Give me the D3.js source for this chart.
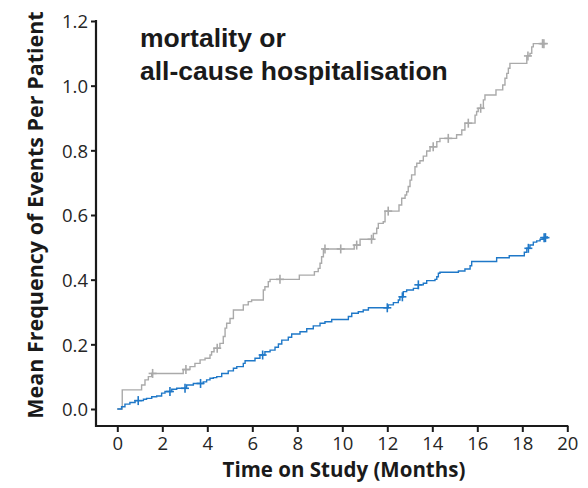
<!DOCTYPE html>
<html>
<head>
<meta charset="utf-8">
<script src="https://cdn.jsdelivr.net/npm/d3@7"></script>
<style>
  body { margin: 0; background: #fff; }
  svg text { font-family: "Open Sans", "DejaVu Sans", sans-serif; }
</style>
</head>
<body>
<svg id="chart" width="588" height="488"></svg>
<script>
// step times (months) and mean cumulative events
var grayTime = [0, 0.22, 1.08, 1.23, 1.38, 1.53, 2.93, 3.23, 3.45, 3.68, 3.9, 4.12, 4.19, 4.3, 4.56, 4.71, 4.79, 4.86, 5.01, 5.16,
  5.6, 5.82, 5.97, 6.49, 6.56, 6.71, 6.79, 8.09, 8.76, 8.93, 9.01, 9.08, 9.16, 10.53, 10.79, 11.38, 11.53, 11.6, 11.82, 11.9,
  12.52, 12.64, 12.79, 12.86, 12.93, 13.01, 13.08, 13.23, 13.31, 13.45, 13.6, 13.75, 13.9, 14.2, 14.34, 15.08, 15.31, 15.45,
  15.9, 15.97, 16.04, 16.27, 16.34, 16.83, 17.13, 17.23, 17.31, 17.38, 17.45, 18.2, 18.34, 18.42, 18.49, 19.0];
var grayValue = [0, 0.059, 0.074, 0.09, 0.1, 0.11, 0.122, 0.131, 0.141, 0.152, 0.157, 0.167, 0.177, 0.188, 0.203, 0.224, 0.25, 0.265, 0.28, 0.306,
  0.322, 0.332, 0.337, 0.368, 0.378, 0.394, 0.401, 0.414, 0.425, 0.435, 0.451, 0.471, 0.495, 0.507, 0.525, 0.543, 0.559, 0.574, 0.579, 0.612,
  0.631, 0.652, 0.662, 0.672, 0.688, 0.708, 0.724, 0.749, 0.76, 0.768, 0.782, 0.798, 0.811, 0.827, 0.837, 0.848, 0.863, 0.884,
  0.909, 0.92, 0.93, 0.956, 0.971, 0.987, 1.002, 1.023, 1.038, 1.054, 1.069, 1.092, 1.1, 1.12, 1.13, 1.13];
var grayCensor = [1.57, 3.05, 4.44, 7.23, 9.23, 9.93, 10.64, 11.3, 12.04, 14.04, 14.71, 15.6, 16.15, 18.25, 18.9, 18.96];

var blueTime = [0, 0.19, 0.34, 0.56, 0.79, 1.16, 1.3, 1.53, 1.75, 1.97, 2.12, 2.42, 2.64, 3.08, 3.38, 3.82, 3.97, 4.12, 4.27, 4.42,
  4.64, 4.93, 5.16, 5.31, 5.6, 5.68, 6.12, 6.34, 6.56, 6.79, 7.01, 7.16, 7.31, 7.6, 7.75, 8.12, 8.42, 8.71, 9.01, 9.23, 9.53,
  10.27, 10.42, 10.71, 10.93, 11.16, 12.04, 12.27, 12.49, 12.56, 12.71, 12.86, 13.16, 13.38, 13.6, 13.75, 14.12, 14.2, 14.27, 14.34,
  15.16, 15.45, 15.68, 15.75, 16.86, 17.42, 18.09, 18.2, 18.34, 18.49, 18.64, 18.79, 18.93, 19.1];
var blueValue = [0, 0.007, 0.015, 0.02, 0.026, 0.03, 0.033, 0.038, 0.04, 0.049, 0.054, 0.061, 0.064, 0.074, 0.079, 0.084, 0.09, 0.095, 0.097, 0.1,
  0.11, 0.118, 0.126, 0.131, 0.141, 0.149, 0.157, 0.167, 0.177, 0.182, 0.191, 0.201, 0.213, 0.222, 0.232, 0.239, 0.248, 0.257, 0.265, 0.27, 0.277,
  0.286, 0.296, 0.301, 0.306, 0.313, 0.322, 0.329, 0.337, 0.347, 0.363, 0.368, 0.373, 0.384, 0.389, 0.397, 0.401, 0.409, 0.42, 0.423,
  0.427, 0.433, 0.443, 0.456, 0.468, 0.474, 0.485, 0.497, 0.507, 0.516, 0.52, 0.525, 0.53, 0.535];
var blueCensor = [0.93, 2.34, 3.01, 3.7, 6.46, 12.0, 12.67, 13.38, 18.27, 18.97, 19.03];

var xTicks = [0, 2, 4, 6, 8, 10, 12, 14, 16, 18, 20];
var yTicks = [0, 0.2, 0.4, 0.6, 0.8, 1.0, 1.2];
var titleLines = ["mortality or", "all-cause hospitalisation"];

var svg = d3.select("#chart");
var x = d3.scaleLinear().domain([0, 20]).range([117.3, 567.3]);
var y = d3.scaleLinear().domain([0, 1.2]).range([409, 21]);

// axes
var axisColor = "#1a1a1a";
svg.append("line").attr("x1", 96).attr("x2", 96).attr("y1", 20).attr("y2", 427)
  .attr("stroke", axisColor).attr("stroke-width", 2.2);
svg.append("line").attr("x1", 95).attr("x2", 568.3).attr("y1", 426).attr("y2", 426)
  .attr("stroke", axisColor).attr("stroke-width", 2.2);

var yAxis = svg.append("g").attr("transform", "translate(96,0)")
  .call(d3.axisLeft(y).tickValues(yTicks).tickFormat(d3.format(".1f")).tickSize(5).tickSizeOuter(0));
var xAxis = svg.append("g").attr("transform", "translate(0,426)")
  .call(d3.axisBottom(x).tickValues(xTicks).tickFormat(d3.format("d")).tickSize(6).tickSizeOuter(0));
[yAxis, xAxis].forEach(function (g) {
  g.select(".domain").remove();
  g.selectAll(".tick line").attr("stroke", axisColor).attr("stroke-width", 2);
  g.selectAll(".tick text").attr("fill", "#262626").style("font-size", "18.5px");
});
yAxis.selectAll(".tick text").attr("x", -8).attr("dy", "0.36em");
xAxis.selectAll(".tick text").attr("y", 11);

svg.append("text").attr("x", 344).attr("y", 477).attr("text-anchor", "middle")
  .style("font-size", "20.5px").style("font-weight", "bold").attr("fill", "#1a1a1a")
  .text("Time on Study (Months)");
svg.append("text").attr("transform", "translate(43,215) rotate(-90)").attr("text-anchor", "middle")
  .style("font-size", "21.5px").style("font-weight", "bold").attr("fill", "#1a1a1a")
  .text("Mean Frequency of Events Per Patient");

svg.selectAll(".title").data(titleLines).enter().append("text")
  .attr("x", 140).attr("y", function (d, i) { return 47 + i * 33; })
  .style("font-family", "'Liberation Sans', Arial, sans-serif")
  .style("font-size", "26.5px").style("font-weight", "bold").attr("fill", "#1a1a1a")
  .text(function (d) { return d; });

// step curves
var drawSeries = function (times, values, censor, color) {
  var pts = times.map(function (t, i) { return [t, values[i]]; });
  var line = d3.line().x(function (d) { return x(d[0]); }).y(function (d) { return y(d[1]); })
    .curve(d3.curveStepAfter);
  svg.append("path").datum(pts).attr("d", line).attr("fill", "none")
    .attr("stroke", color).attr("stroke-width", 1.4);
  var valueAt = function (t) {
    var i = d3.bisectRight(times, t) - 1;
    return values[Math.max(0, i)];
  };
  var marks = svg.append("g").selectAll("g").data(censor).enter().append("g")
    .attr("transform", function (d) { return "translate(" + x(d) + "," + y(valueAt(d)) + ")"; });
  marks.append("line").attr("x1", -4).attr("x2", 4).attr("y1", 0).attr("y2", 0)
    .attr("stroke", color).attr("stroke-width", 1.6);
  marks.append("line").attr("x1", 0).attr("x2", 0).attr("y1", -4.5).attr("y2", 4.5)
    .attr("stroke", color).attr("stroke-width", 1.6);
}

drawSeries(grayTime, grayValue, grayCensor, "#aaaaaa");
drawSeries(blueTime, blueValue, blueCensor, "#1f78c8");
</script>
</body>
</html>
